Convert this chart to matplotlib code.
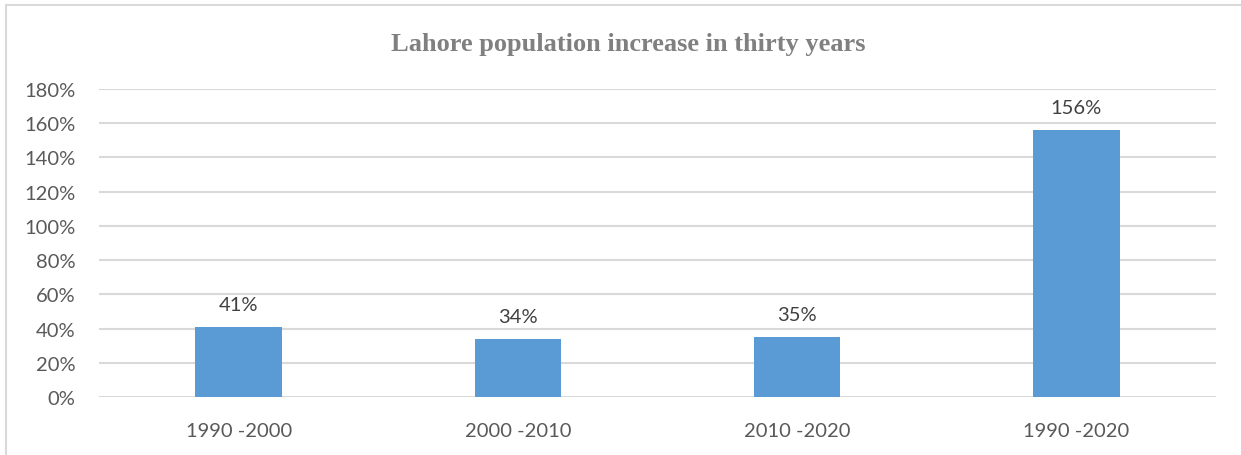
import matplotlib
matplotlib.use("Agg")
import matplotlib.pyplot as plt
from matplotlib.lines import Line2D

categories = ["1990 -2000", "2000 -2010", "2010 -2020", "1990 -2020"]
increase_pct = [41, 34, 35, 156]
y_ticks = [0, 20, 40, 60, 80, 100, 120, 140, 160, 180]

W, H = 1241, 456
fig = plt.figure(figsize=(W / 100, H / 100), dpi=100)
fig.patch.set_facecolor("white")

# chart frame (left and top edges)
frame_color = "#D9D9D9"
fig.add_artist(Line2D([6 / W, 6 / W], [0, 1 - 6 / H], color=frame_color, lw=1.5,
                      transform=fig.transFigure))
fig.add_artist(Line2D([6 / W, 1], [1 - 6 / H, 1 - 6 / H], color=frame_color, lw=1.5,
                      transform=fig.transFigure))

left, right = 99, 1216
top, bottom = 90, 398
ax = fig.add_axes([left / W, 1 - bottom / H, (right - left) / W, (bottom - top) / H])

x = list(range(len(categories)))
bars = ax.bar(x, increase_pct, width=0.31, color="#5B9BD5", zorder=3)
ax.set_xlim(-0.5, len(categories) - 0.5)
ax.set_ylim(0, 180)
ax.set_yticks(y_ticks)
ax.set_yticklabels([f"{v}%" for v in y_ticks])
ax.set_xticks(x)
ax.set_xticklabels(categories)

label_family = ["Lato", "DejaVu Sans"]
for lbl in ax.get_yticklabels() + ax.get_xticklabels():
    lbl.set_fontfamily(label_family)
    lbl.set_fontsize(14.5)
    lbl.set_color("#595959")
ax.tick_params(axis="both", length=0)
ax.tick_params(axis="y", pad=17)
ax.tick_params(axis="x", pad=18)

ax.grid(axis="y", color="#D9D9D9", lw=1.5, zorder=0)
for s in ax.spines.values():
    s.set_visible(False)

for xi, v in zip(x, increase_pct):
    ax.annotate(f"{v}%", (xi, v), xytext=(0, 10), textcoords="offset points",
                ha="center", va="bottom", fontfamily=label_family,
                fontsize=14.5, color="#404040")

fig.text(628 / W, 1 - 44 / H, "Lahore population increase in thirty years",
         ha="center", va="center", fontfamily=["Liberation Serif"],
         fontweight="bold", fontsize=19, color="#808080")

fig.savefig("out.png", dpi=100, facecolor="white")
